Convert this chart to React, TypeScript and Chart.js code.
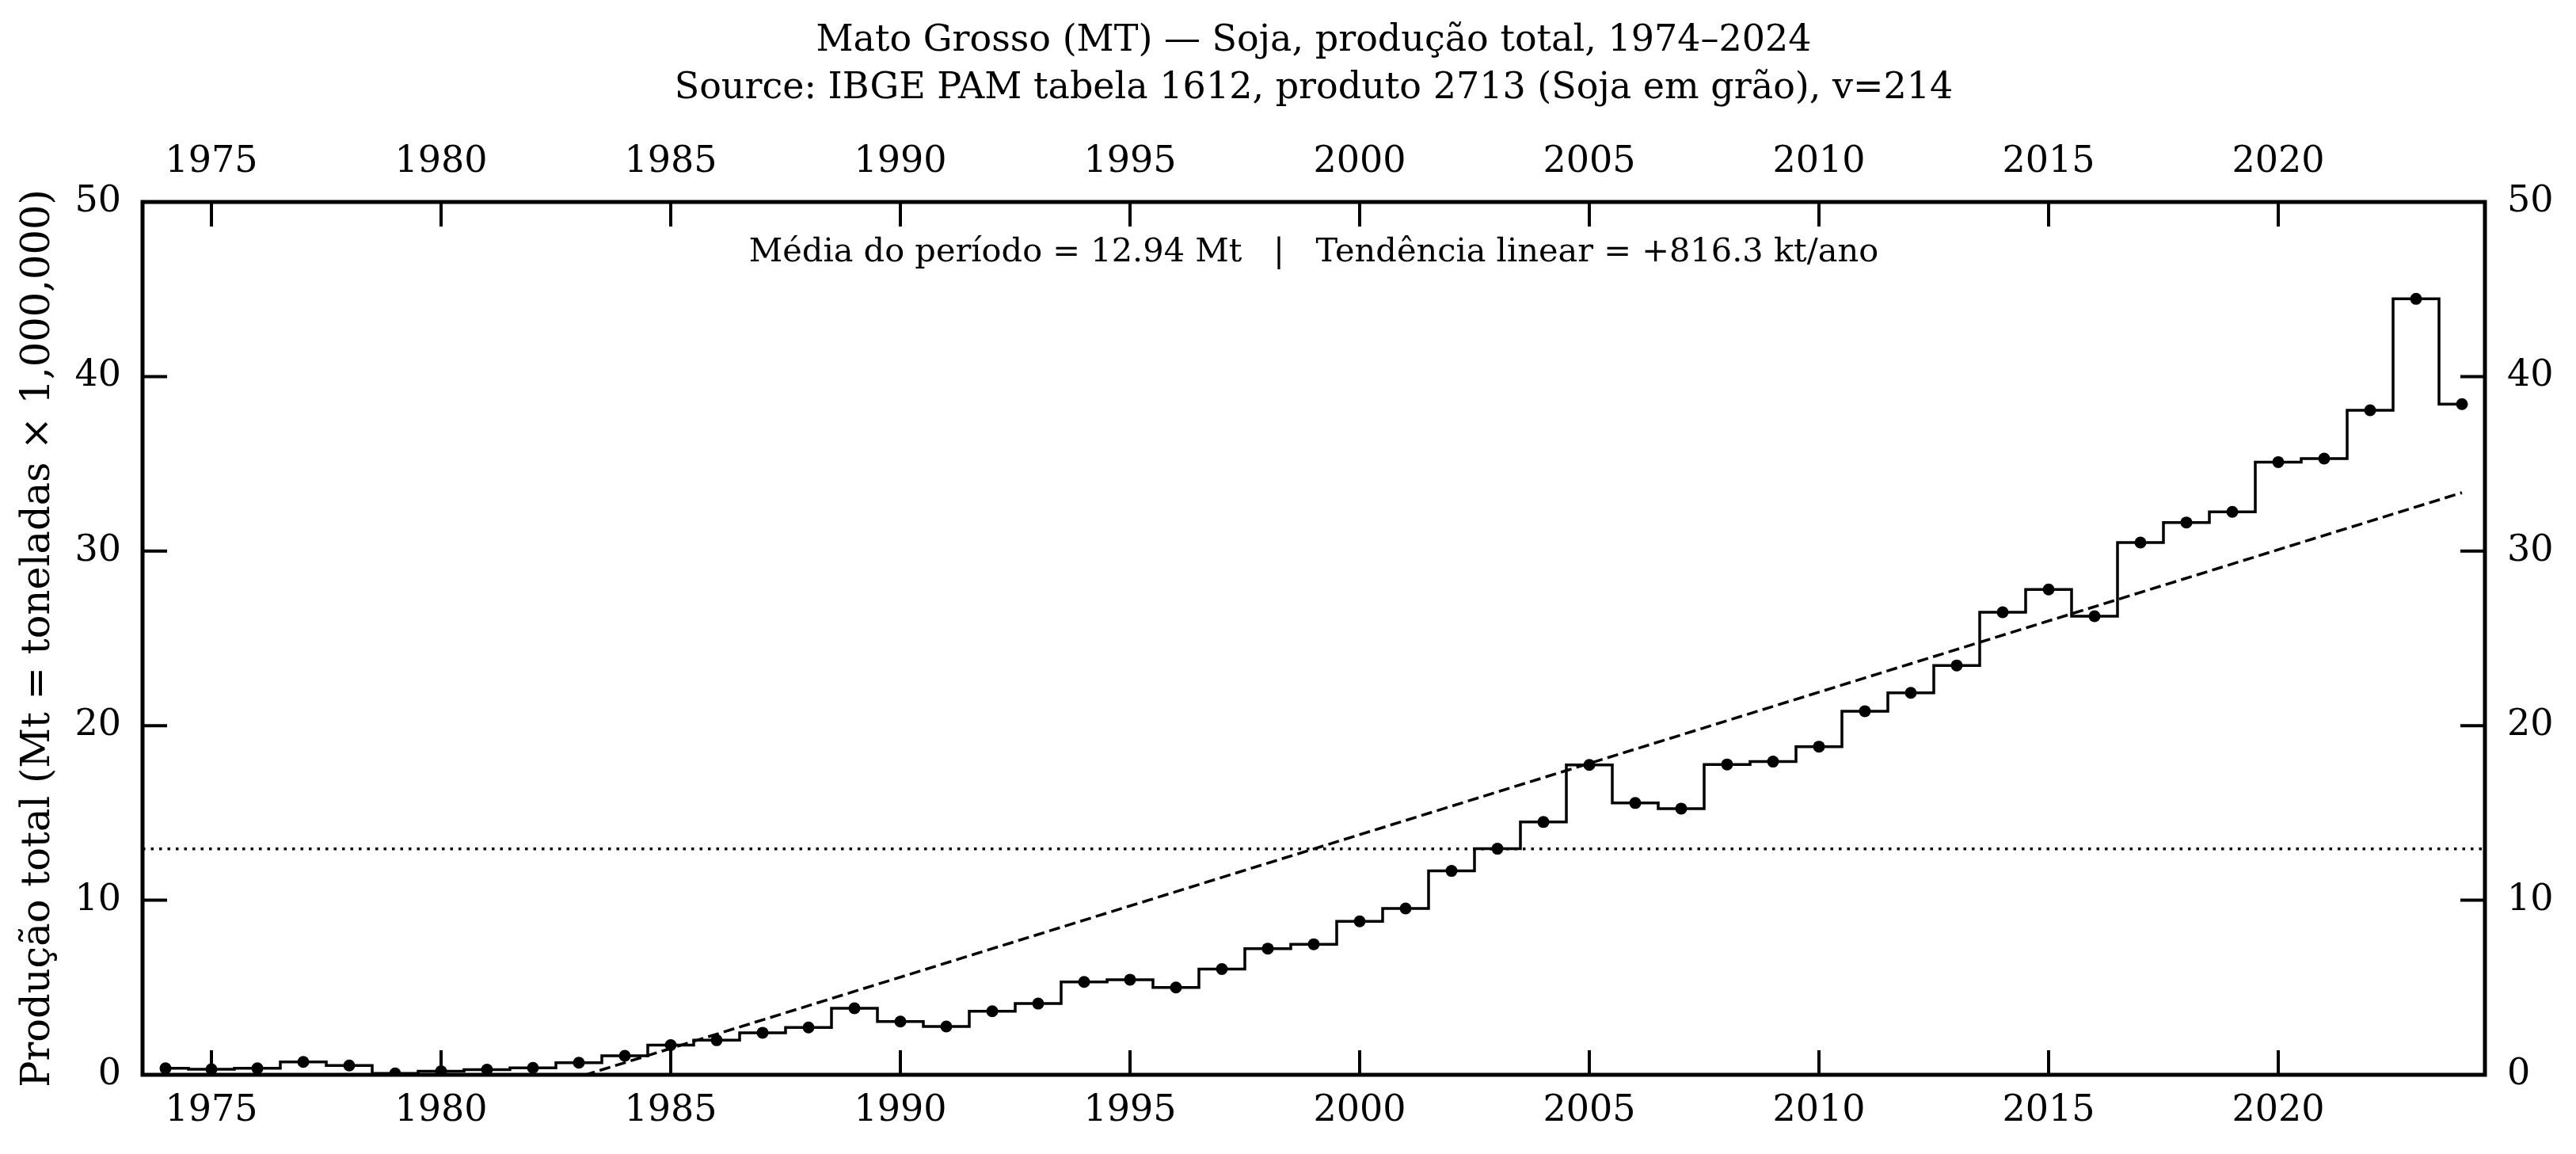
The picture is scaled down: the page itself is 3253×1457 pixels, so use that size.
import React, { useEffect, useRef } from 'react';
import { Chart, registerables } from 'chart.js';

Chart.register(...registerables);

// Soybean production in Mato Grosso, million tonnes per harvest year
const YEARS = [
  1974, 1975, 1976, 1977, 1978, 1979, 1980, 1981, 1982, 1983,
  1984, 1985, 1986, 1987, 1988, 1989, 1990, 1991, 1992, 1993,
  1994, 1995, 1996, 1997, 1998, 1999, 2000, 2001, 2002, 2003,
  2004, 2005, 2006, 2007, 2008, 2009, 2010, 2011, 2012, 2013,
  2014, 2015, 2016, 2017, 2018, 2019, 2020, 2021, 2022, 2023, 2024,
];
const PRODUCTION_MT = [
  0.37, 0.32, 0.37, 0.74, 0.53, 0.08, 0.2, 0.29, 0.4, 0.69,
  1.09, 1.7, 1.98, 2.41, 2.71, 3.81, 3.05, 2.77, 3.64, 4.08,
  5.32, 5.45, 5.0, 6.06, 7.23, 7.48, 8.79, 9.53, 11.68, 12.95,
  14.48, 17.75, 15.57, 15.25, 17.78, 17.94, 18.8, 20.83, 21.88, 23.45,
  26.5, 27.8, 26.27, 30.49, 31.64, 32.25, 35.1, 35.3, 38.07, 44.45, 38.42,
];
const MEAN_MT = 12.94;
const TREND_KT_PER_YEAR = 816.3;

const X_TICK_YEARS = [1975, 1980, 1985, 1990, 1995, 2000, 2005, 2010, 2015, 2020];
const Y_TICK_VALUES = [0, 10, 20, 30, 40, 50];
const X_RANGE = [1973.5, 2024.5];
const Y_RANGE = [0, 50];

const TITLE_LINES = [
  'Mato Grosso (MT) — Soja, produção total, 1974–2024',
  'Source: IBGE PAM tabela 1612, produto 2713 (Soja em grão), v=214',
];
const Y_AXIS_TITLE = 'Produção total (Mt = toneladas × 1,000,000)';
const SUMMARY_TEXT =
  `Média do período = ${MEAN_MT.toFixed(2)} Mt   |   Tendência linear = +${TREND_KT_PER_YEAR.toFixed(1)} kt/ano`;

const FONT = '"DejaVu Serif", serif';
const TICK_FONT_SIZE = 46;
const TITLE_FONT_SIZE = 46;
const LABEL_FONT_SIZE = 49.5;
const SUMMARY_FONT_SIZE = 41.5;

const WIDTH = 3253;
const HEIGHT = 1457;
const TICK_LEN = 31;

// straight-line fit through the period mean, anchored at the mean year
const midYear = YEARS.reduce((s, y) => s + y, 0) / YEARS.length;
const trendAt = (year: number) => MEAN_MT + (TREND_KT_PER_YEAR / 1000) * (year - midYear);

const decorations = {
  id: 'decorations',
  beforeDatasetsDraw(chart: any) {
    const { ctx, chartArea: a, scales } = chart;
    const ym = scales.y.getPixelForValue(MEAN_MT);
    ctx.save();
    ctx.strokeStyle = '#000';
    ctx.lineWidth = 3.5;
    ctx.setLineDash([3.5, 7]);
    ctx.beginPath();
    ctx.moveTo(a.left, ym);
    ctx.lineTo(a.right, ym);
    ctx.stroke();
    ctx.restore();
  },
  afterDraw(chart: any) {
    const { ctx, chartArea: a, scales } = chart;
    ctx.save();
    ctx.strokeStyle = '#000';
    ctx.fillStyle = '#000';

    // inward tick marks on all four sides
    ctx.lineWidth = 4;
    ctx.beginPath();
    for (const v of X_TICK_YEARS) {
      const px = scales.x.getPixelForValue(v);
      ctx.moveTo(px, a.bottom);
      ctx.lineTo(px, a.bottom - TICK_LEN);
      ctx.moveTo(px, a.top);
      ctx.lineTo(px, a.top + TICK_LEN);
    }
    for (const v of Y_TICK_VALUES) {
      const py = scales.y.getPixelForValue(v);
      ctx.moveTo(a.left, py);
      ctx.lineTo(a.left + TICK_LEN, py);
      ctx.moveTo(a.right, py);
      ctx.lineTo(a.right - TICK_LEN, py);
    }
    ctx.stroke();

    // axes frame
    ctx.lineWidth = 5;
    ctx.strokeRect(a.left, a.top, a.right - a.left, a.bottom - a.top);

    const cx = (a.left + a.right) / 2;
    ctx.textAlign = 'center';
    ctx.textBaseline = 'middle';

    ctx.font = `${TITLE_FONT_SIZE}px ${FONT}`;
    ctx.fillText(TITLE_LINES[0], cx, 52);
    ctx.fillText(TITLE_LINES[1], cx, 112);

    ctx.font = `${SUMMARY_FONT_SIZE}px ${FONT}`;
    ctx.fillText(SUMMARY_TEXT, cx, a.top + 64);

    ctx.save();
    ctx.translate(49, (a.top + a.bottom) / 2);
    ctx.rotate(-Math.PI / 2);
    ctx.font = `${LABEL_FONT_SIZE}px ${FONT}`;
    ctx.fillText(Y_AXIS_TITLE, 0, 0);
    ctx.restore();

    ctx.restore();
  },
};

function xScale(position: 'top' | 'bottom', size: number, padding: number) {
  return {
    type: 'linear',
    position,
    min: X_RANGE[0],
    max: X_RANGE[1],
    grid: { display: false, drawTicks: false },
    border: { display: false },
    afterBuildTicks: (s: any) => {
      s.ticks = X_TICK_YEARS.map((value) => ({ value }));
    },
    afterFit: (s: any) => {
      s.height = size;
    },
    ticks: {
      color: '#000',
      font: { family: FONT, size: TICK_FONT_SIZE },
      padding,
      maxRotation: 0,
      autoSkip: false,
      callback: (v: number) => String(v),
    },
  };
}

function yScale(position: 'left' | 'right', size: number, padding: number) {
  return {
    type: 'linear',
    position,
    min: Y_RANGE[0],
    max: Y_RANGE[1],
    grid: { display: false, drawTicks: false },
    border: { display: false },
    afterBuildTicks: (s: any) => {
      s.ticks = Y_TICK_VALUES.map((value) => ({ value }));
    },
    afterFit: (s: any) => {
      s.width = size;
    },
    ticks: {
      color: '#000',
      font: { family: FONT, size: TICK_FONT_SIZE },
      padding,
      autoSkip: false,
      callback: (v: number) => String(v),
    },
  };
}

export default function App() {
  const canvasRef = useRef<HTMLCanvasElement | null>(null);

  useEffect(() => {
    document.body.style.margin = '0';
    const canvas = canvasRef.current;
    if (!canvas) return;

    const chart = new Chart(canvas, {
      type: 'line',
      data: {
        datasets: [
          {
            data: YEARS.map((x, i) => ({ x, y: PRODUCTION_MT[i] })),
            stepped: 'middle',
            borderColor: '#000',
            borderWidth: 3.5,
            pointRadius: 7.5,
            pointBackgroundColor: '#000',
            pointBorderWidth: 0,
            xAxisID: 'x',
            yAxisID: 'y',
            order: 1,
          },
          {
            data: [
              { x: YEARS[0], y: trendAt(YEARS[0]) },
              { x: YEARS[YEARS.length - 1], y: trendAt(YEARS[YEARS.length - 1]) },
            ],
            borderColor: '#000',
            borderWidth: 3.5,
            borderDash: [14, 6.5],
            pointRadius: 0,
            xAxisID: 'x',
            yAxisID: 'y',
            order: 2,
          },
        ],
      } as any,
      options: {
        animation: false,
        responsive: false,
        devicePixelRatio: 1,
        layout: { padding: 0 },
        plugins: {
          legend: { display: false },
          tooltip: { enabled: false },
          title: { display: false },
        },
        scales: {
          x: xScale('bottom', HEIGHT - 1357, 18),
          x2: xScale('top', 255, 22),
          y: yScale('left', 180, 27),
          y2: yScale('right', WIDTH - 3138, 28),
        } as any,
      },
      plugins: [decorations],
    });

    return () => chart.destroy();
  }, []);

  return (
    <div style={{ position: 'absolute', left: 0, top: 0, width: WIDTH, height: HEIGHT, background: '#fff' }}>
      <canvas ref={canvasRef} width={WIDTH} height={HEIGHT} />
    </div>
  );
}
